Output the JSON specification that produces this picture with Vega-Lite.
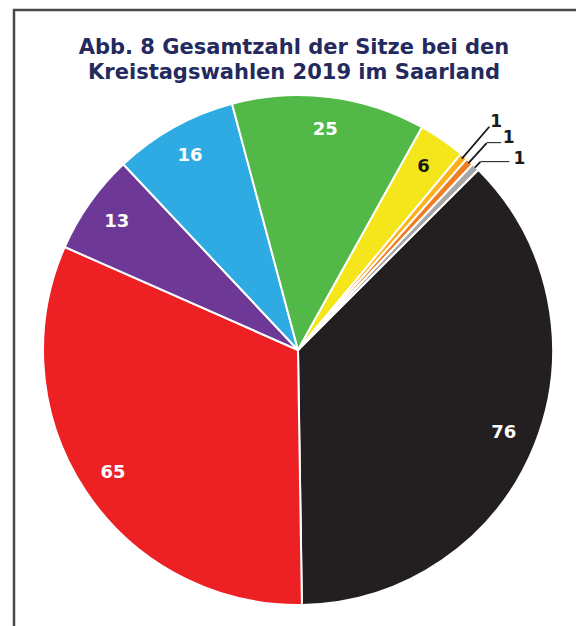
{
  "$schema": "https://vega.github.io/schema/vega-lite/v6.json",
  "width": 568,
  "height": 680,
  "autosize": {"type": "none"},
  "padding": {"left": 14, "top": 10, "right": 0, "bottom": 0},
  "background": "white",
  "view": {"stroke": "#4a4a4a", "strokeWidth": 2.5, "fill": "white"},
  "config": {"font": "DejaVu Sans"},
  "title": {
    "text": ["Abb. 8 Gesamtzahl der Sitze bei den", "Kreistagswahlen 2019 im Saarland"],
    "font": "DejaVu Sans",
    "fontSize": 21,
    "fontWeight": "bold",
    "color": "#242a5e",
    "anchor": "middle",
    "dx": -4,
    "offset": -73,
    "lineHeight": 25
  },
  "data": {
    "values": [
      {"partei": "CDU", "sitze": 76, "nr": 1},
      {"partei": "SPD", "sitze": 65, "nr": 2},
      {"partei": "DIE LINKE", "sitze": 13, "nr": 3},
      {"partei": "AfD", "sitze": 16, "nr": 4},
      {"partei": "GRÜNE", "sitze": 25, "nr": 5},
      {"partei": "FDP", "sitze": 6, "nr": 6},
      {"partei": "FREIE WÄHLER", "sitze": 1, "nr": 7},
      {"partei": "FAMILIE", "sitze": 1, "nr": 8},
      {"partei": "Sonstige", "sitze": 1, "nr": 9}
    ]
  },
  "encoding": {
    "theta": {"field": "sitze", "type": "quantitative", "stack": true, "scale": {"range": [0.7854, 7.0686]}},
    "order": {"field": "nr", "type": "quantitative"}
  },
  "layer": [
    {
      "mark": {"type": "arc", "radius": 255, "stroke": "white", "strokeWidth": 2},
      "encoding": {
        "color": {
          "field": "partei",
          "type": "nominal",
          "scale": {
            "domain": ["CDU", "SPD", "DIE LINKE", "AfD", "GRÜNE", "FDP", "FREIE WÄHLER", "FAMILIE", "Sonstige"],
            "range": ["#231f20", "#ed2024", "#6e3996", "#2eabe2", "#52b848", "#f4e61b", "#fbb117", "#ee7d23", "#a6a6a6"]
          },
          "legend": null
        }
      }
    },
    {
      "mark": {"type": "text", "radius": 222, "font": "DejaVu Sans", "fontSize": 18, "fontWeight": "bold", "baseline": "middle", "align": "center"},
      "encoding": {
        "text": {"condition": {"test": "datum.sitze > 1", "field": "sitze", "type": "quantitative"}, "value": ""},
        "color": {"condition": {"test": "datum.partei == 'FDP'", "value": "#1a1a1a"}, "value": "white"}
      }
    },
    {
      "mark": {"type": "arc", "radius": 294, "radius2": 252, "padAngle": 0.06, "fillOpacity": 0, "stroke": "#1a1a1a", "strokeWidth": 1.8},
      "encoding": {"strokeOpacity": {"condition": {"test": "datum.nr == 7", "value": 1}, "value": 0}}
    },
    {
      "mark": {"type": "arc", "radius": 280, "radius2": 253, "padAngle": 0.06, "fillOpacity": 0, "stroke": "#1a1a1a", "strokeWidth": 1.8},
      "encoding": {"strokeOpacity": {"condition": {"test": "datum.nr == 8", "value": 1}, "value": 0}}
    },
    {
      "mark": {"type": "arc", "radius": 262, "radius2": 254, "padAngle": 0.06, "fillOpacity": 0, "stroke": "#1a1a1a", "strokeWidth": 1.8},
      "encoding": {"strokeOpacity": {"condition": {"test": "datum.nr == 9", "value": 1}, "value": 0}}
    },
    {
      "mark": {"type": "text", "radius": 280, "font": "DejaVu Sans Mono", "fontSize": 12, "align": "left", "baseline": "alphabetic", "dy": 4, "color": "#1a1a1a"},
      "encoding": {"text": {"condition": {"test": "datum.nr == 8", "value": "──"}, "value": ""}}
    },
    {
      "mark": {"type": "text", "radius": 262, "font": "DejaVu Sans Mono", "fontSize": 12, "align": "left", "baseline": "alphabetic", "dy": 4, "color": "#1a1a1a"},
      "encoding": {"text": {"condition": {"test": "datum.nr == 9", "value": "────"}, "value": ""}}
    },
    {
      "mark": {"type": "text", "radius": 294, "font": "DejaVu Sans", "fontSize": 17, "fontWeight": "bold", "align": "left", "baseline": "alphabetic", "dx": 1, "dy": 0, "color": "#1a1a1a"},
      "encoding": {"text": {"condition": {"test": "datum.nr == 7", "field": "sitze", "type": "quantitative"}, "value": ""}}
    },
    {
      "mark": {"type": "text", "radius": 280, "font": "DejaVu Sans", "fontSize": 17, "fontWeight": "bold", "align": "left", "baseline": "alphabetic", "dx": 16, "dy": 0, "color": "#1a1a1a"},
      "encoding": {"text": {"condition": {"test": "datum.nr == 8", "field": "sitze", "type": "quantitative"}, "value": ""}}
    },
    {
      "mark": {"type": "text", "radius": 262, "font": "DejaVu Sans", "fontSize": 17, "fontWeight": "bold", "align": "left", "baseline": "alphabetic", "dx": 33, "dy": 2, "color": "#1a1a1a"},
      "encoding": {"text": {"condition": {"test": "datum.nr == 9", "field": "sitze", "type": "quantitative"}, "value": ""}}
    }
  ]
}
